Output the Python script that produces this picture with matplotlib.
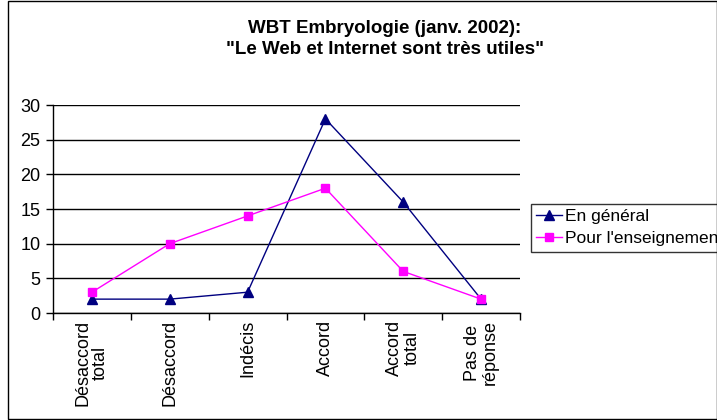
import matplotlib.pyplot as plt
from matplotlib.patches import Rectangle

plt.rcParams['font.family'] = ['Liberation Sans', 'DejaVu Sans']

categories = ["Désaccord\ntotal", "Désaccord", "Indécis", "Accord", "Accord\ntotal", "Pas de\nréponse"]
en_general = [2, 2, 3, 28, 16, 2]
enseignement = [3, 10, 14, 18, 6, 2]
title = "WBT Embryologie (janv. 2002):\n\"Le Web et Internet sont très utiles\""

W, H = 717, 420
fig = plt.figure(figsize=(W / 100, H / 100), dpi=100, facecolor='w')
ax = fig.add_axes([53 / W, 1 - 313 / H, (520 - 53) / W, (313 - 105) / H])

x = list(range(len(categories)))
ax.plot(x, en_general, color='#000080', marker='^', markersize=6.5, lw=1, label='En général', clip_on=False)
ax.plot(x, enseignement, color='#FF00FF', marker='s', markersize=6, lw=1, label="Pour l'enseignement", clip_on=False)

ax.set_xlim(-0.5, len(categories) - 0.5)
ax.set_ylim(0, 30)
ax.set_yticks(range(0, 31, 5))
ax.yaxis.grid(True, color='black', lw=1)
ax.set_axisbelow(True)

ax.set_xticks([i - 0.5 for i in range(len(categories) + 1)])
ax.set_xticklabels([])
ax.set_xticks(x, minor=True)
ax.set_xticklabels(categories, minor=True, rotation=90, fontsize=13, ha='center', va='top',
                   multialignment='center', linespacing=1.05)
ax.tick_params(axis='x', which='minor', length=0, pad=5)
ax.tick_params(axis='x', which='major', length=5, direction='out', width=1)
ax.tick_params(axis='y', length=5, direction='out', labelsize=13, width=1, pad=4)

for s in ['top', 'right']:
    ax.spines[s].set_visible(False)
for s in ['left', 'bottom']:
    ax.spines[s].set_linewidth(1)

fig.text(385 / W, 1 - 39 / H, title, ha='center', va='center', fontsize=13.5, fontweight='bold', linespacing=1.35)

# legend runs off the right edge, as in the original
leg = ax.legend(loc='upper left', bbox_to_anchor=(531 / W, 1 - 204 / H), bbox_transform=fig.transFigure,
                frameon=True, fancybox=False, edgecolor='black', fontsize=12.5, handlelength=1.5,
                borderpad=0.3, labelspacing=0.4, handletextpad=0.15, borderaxespad=0)
leg.get_frame().set_linewidth(1)

fig.patches.append(Rectangle((8 / W, 0.002), 1 - 8 / W, 0.996, transform=fig.transFigure,
                             fill=False, edgecolor='black', lw=1))

fig.savefig('out.png', dpi=100)
